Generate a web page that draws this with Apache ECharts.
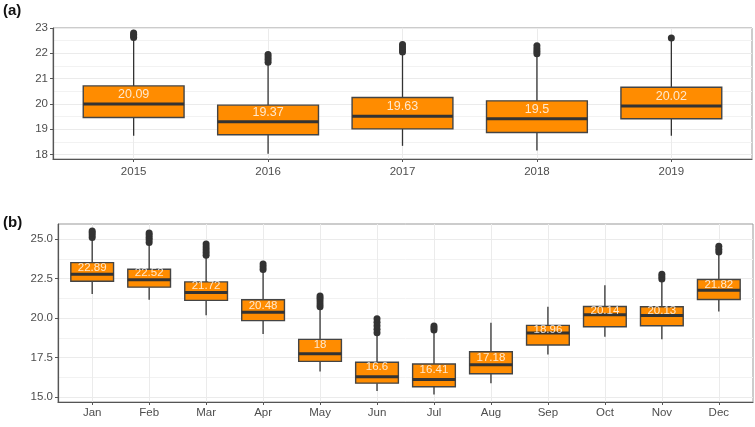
<!DOCTYPE html>
<html>
<head>
<meta charset="UTF-8">
<title>boxplot</title>
<script src="https://cdn.jsdelivr.net/npm/echarts@6/dist/echarts.min.js"></script>
<style>
html, body { margin: 0; padding: 0; background: #fff; }
#main { width: 755px; height: 427px; }
</style>
</head>
<body>
<div id="main"></div>
<script type="text/javascript">
// (a) yearly
var years = ['2015', '2016', '2017', '2018', '2019'];
// [lower whisker, Q1, median, Q3, upper whisker]
var yearBoxes = [
  [18.74, 19.46, 19.99, 20.71, 22.55],
  [18.03, 18.78, 19.29, 19.95, 21.60],
  [18.34, 19.01, 19.51, 20.25, 22.00],
  [18.16, 18.87, 19.41, 20.12, 21.95],
  [18.74, 19.41, 19.92, 20.66, 22.50]
];
var yearOutliers = [
  [22.62, 22.68, 22.74, 22.80],
  [21.65, 21.75, 21.85, 21.95],
  [22.05, 22.15, 22.25, 22.35],
  [21.98, 22.08, 22.18, 22.30],
  [22.60]
];
var yearMeans = [20.09, 19.37, 19.63, 19.5, 20.02];
var yearTicks = [18, 19, 20, 21, 22, 23];
var yearMinor = [18.5, 19.5, 20.5, 21.5, 22.5];

// (b) monthly
var months = ['Jan', 'Feb', 'Mar', 'Apr', 'May', 'Jun', 'Jul', 'Aug', 'Sep', 'Oct', 'Nov', 'Dec'];
var monthBoxes = [
  [21.53, 22.33, 22.77, 23.51, 25.00],
  [21.16, 21.96, 22.42, 23.09, 24.70],
  [20.19, 21.12, 21.62, 22.29, 23.90],
  [19.00, 19.84, 20.38, 21.16, 23.00],
  [16.62, 17.27, 17.75, 18.66, 20.65],
  [15.40, 15.89, 16.30, 17.21, 19.00],
  [15.17, 15.66, 16.12, 17.10, 19.15],
  [15.89, 16.49, 17.06, 17.88, 19.71],
  [17.71, 18.30, 19.06, 19.54, 20.72],
  [18.83, 19.46, 20.22, 20.74, 22.08],
  [18.66, 19.52, 20.16, 20.72, 22.40],
  [20.42, 21.18, 21.77, 22.44, 24.10]
];
var monthOutliers = [
  [25.10, 25.25, 25.40, 25.50],
  [24.78, 24.95, 25.10, 25.25, 25.38],
  [23.98, 24.15, 24.32, 24.50, 24.68],
  [23.08, 23.25, 23.42],
  [20.72, 20.90, 21.08, 21.25, 21.40],
  [19.08, 19.30, 19.52, 19.74, 19.96],
  [19.25, 19.38, 19.50],
  [],
  [],
  [],
  [22.48, 22.62, 22.78],
  [24.18, 24.35, 24.55]
];
var monthMeans = [22.89, 22.52, 21.72, 20.48, 18, 16.6, 16.41, 17.18, 18.96, 20.14, 20.13, 21.82];
var monthTicks = [15, 17.5, 20, 22.5, 25];
var monthMinor = [16.25, 18.75, 21.25, 23.75];

var myChart = echarts.init(document.getElementById('main'));

var FONT = '"Liberation Sans", Arial, sans-serif';
var ORANGE = '#FF8C00';
var DARK = '#333333';

function boxData(boxes) {
  var out = [];
  for (var i = 0; i < boxes.length; i++) {
    out.push([i].concat(boxes[i]));
  }
  return out;
}
function outlierData(list) {
  var out = [];
  for (var i = 0; i < list.length; i++) {
    for (var j = 0; j < list[i].length; j++) out.push([i, list[i][j]]);
  }
  return out;
}
function meanData(means) {
  var out = [];
  for (var i = 0; i < means.length; i++) out.push([i, means[i]]);
  return out;
}

function renderBox(params, api) {
  var x = api.value(0);
  var lo = api.coord([x, api.value(1)]);
  var q1 = api.coord([x, api.value(2)]);
  var md = api.coord([x, api.value(3)]);
  var q3 = api.coord([x, api.value(4)]);
  var hi = api.coord([x, api.value(5)]);
  var w = api.size([0.75, 0])[0];
  return {
    type: 'group',
    children: [
      { type: 'line', shape: { x1: lo[0], y1: lo[1], x2: q1[0], y2: q1[1] }, style: { stroke: DARK, lineWidth: 1.3 } },
      { type: 'line', shape: { x1: q3[0], y1: q3[1], x2: hi[0], y2: hi[1] }, style: { stroke: DARK, lineWidth: 1.3 } },
      { type: 'rect', shape: { x: q1[0] - w / 2, y: q3[1], width: w, height: q1[1] - q3[1] }, style: { fill: ORANGE, stroke: '#444', lineWidth: 1.4 } },
      { type: 'line', shape: { x1: md[0] - w / 2, y1: md[1], x2: md[0] + w / 2, y2: md[1] }, style: { stroke: DARK, lineWidth: 3 } }
    ]
  };
}

function xAxisFor(gi, cats) {
  var vals = [];
  for (var i = 0; i < cats.length; i++) vals.push(i);
  return {
    type: 'value', gridIndex: gi, min: -0.6, max: cats.length - 0.4,
    axisLine: { show: true, onZero: false, lineStyle: { color: '#555', width: 1.2 } },
    axisTick: { show: true, length: 3, customValues: vals, lineStyle: { color: '#555' } },
    axisLabel: {
      customValues: vals, color: '#4d4d4d', fontSize: 11.5, fontFamily: FONT, margin: gi === 0 ? 7 : 5,
      formatter: function (v) { return cats[Math.round(v)]; }
    },
    splitLine: { show: true, lineStyle: { color: '#ebebeb', width: 1 } }
  };
}

function yAxisFor(gi, min, max, ticks, dec) {
  return {
    type: 'value', gridIndex: gi, min: min, max: max, position: 'left',
    axisLine: { show: true, onZero: false, lineStyle: { color: '#555', width: 1.2 } },
    axisTick: { show: true, length: 3, customValues: ticks, lineStyle: { color: '#555' } },
    axisLabel: {
      customValues: ticks, color: '#4d4d4d', fontSize: 11.5, fontFamily: FONT, margin: 5,
      formatter: function (v) { return v.toFixed(dec); }
    },
    splitLine: { show: true, lineStyle: { color: '#ebebeb', width: 1.2 } }
  };
}
function yMinorFor(gi, min, max, minor) {
  return {
    type: 'value', gridIndex: gi, min: min, max: max, position: 'left',
    axisLine: { show: false, onZero: false },
    axisTick: { show: false, customValues: minor },
    axisLabel: { show: false, customValues: minor },
    splitLine: { show: true, lineStyle: { color: '#f2f2f2', width: 1 } }
  };
}

option = {
  animation: false,
  backgroundColor: '#fff',
  graphic: [
    { type: 'text', left: 3, top: 3, style: { text: '(a)', font: 'bold 15px ' + FONT, fill: '#111' } },
    { type: 'text', left: 3, top: 215, style: { text: '(b)', font: 'bold 15px ' + FONT, fill: '#111' } }
  ],
  grid: [
    { left: 53, right: 3, top: 28, bottom: 268, show: true, borderColor: '#999', borderWidth: 1, backgroundColor: 'transparent' },
    { left: 58, right: 2, top: 224, bottom: 25, show: true, borderColor: '#999', borderWidth: 1, backgroundColor: 'transparent' }
  ],
  xAxis: [xAxisFor(0, years), xAxisFor(1, months)],
  yAxis: [
    yAxisFor(0, 17.82, 23.0, yearTicks, 0),
    yAxisFor(1, 14.70, 25.95, monthTicks, 1),
    yMinorFor(0, 17.82, 23.0, yearMinor),
    yMinorFor(1, 14.70, 25.95, monthMinor)
  ],
  series: [
    {
      type: 'custom', xAxisIndex: 0, yAxisIndex: 0, renderItem: renderBox,
      encode: { x: 0, y: [1, 2, 3, 4, 5] }, data: boxData(yearBoxes), z: 3
    },
    {
      type: 'scatter', xAxisIndex: 0, yAxisIndex: 0, data: outlierData(yearOutliers),
      symbolSize: 7, itemStyle: { color: DARK, opacity: 1 }, z: 4
    },
    {
      type: 'scatter', xAxisIndex: 0, yAxisIndex: 0, data: meanData(yearMeans),
      symbolSize: 0, z: 5,
      label: {
        show: true, position: 'inside', offset: [0, -7], color: '#fff', fontSize: 12.5, fontFamily: FONT,
        formatter: function (p) { return String(p.value[1]); }
      }
    },
    {
      type: 'custom', xAxisIndex: 1, yAxisIndex: 1, renderItem: renderBox,
      encode: { x: 0, y: [1, 2, 3, 4, 5] }, data: boxData(monthBoxes), z: 3
    },
    {
      type: 'scatter', xAxisIndex: 1, yAxisIndex: 1, data: outlierData(monthOutliers),
      symbolSize: 7, itemStyle: { color: DARK, opacity: 1 }, z: 4
    },
    {
      type: 'scatter', xAxisIndex: 1, yAxisIndex: 1, data: meanData(monthMeans),
      symbolSize: 0, z: 5,
      label: {
        show: true, position: 'inside', offset: [0, -5], color: '#fff', fontSize: 11.5, fontFamily: FONT,
        formatter: function (p) { return String(p.value[1]); }
      }
    }
  ]
};

myChart.setOption(option);
</script>
</body>
</html>
